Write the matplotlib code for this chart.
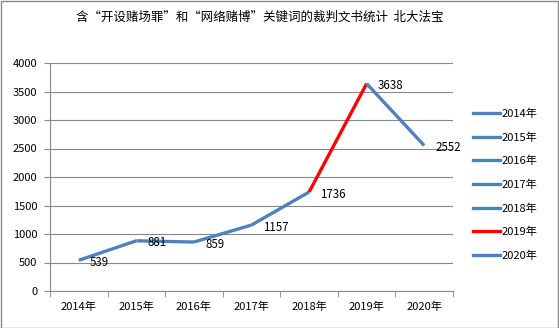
import matplotlib
matplotlib.use("Agg")
import matplotlib.pyplot as plt
from matplotlib.lines import Line2D
from matplotlib.patches import Rectangle

plt.rcParams['font.family'] = ['Noto Sans CJK SC', 'DejaVu Sans']

years = ['2014年', '2015年', '2016年', '2017年', '2018年', '2019年', '2020年']
values = [539, 881, 859, 1157, 1736, 3638, 2552]
title = '含“开设赌场罪”和“网络赌博”关键词的裁判文书统计  北大法宝'
blue = '#4F81BD'
red = '#FF0000'
seg_colors = [blue, blue, blue, blue, blue, red, blue]  # colour of segment ending at each year

fig = plt.figure(figsize=(5.59, 3.28), dpi=100)
ax = fig.add_axes([50/559, 1 - 291/328, (453-50)/559, (291-63)/328])

x = list(range(len(years)))
for i in range(1, len(x)):
    ax.plot([x[i-1], x[i]], [values[i-1], values[i]], color=seg_colors[i], lw=2.4,
            solid_capstyle='butt', zorder=3)
for i, v in enumerate(values):
    ax.annotate(str(v), (x[i], v), xytext=(8, -1.5), textcoords='offset points',
                ha='left', va='center', fontsize=8.3, color='black', zorder=4)

ax.set_xlim(-0.5, len(x) - 0.5)
ax.set_ylim(0, 4000)
ax.set_yticks(range(0, 4001, 500))
ax.set_yticklabels([str(t) for t in range(0, 4001, 500)], fontsize=8)
ax.set_xticks(x)
ax.set_xticklabels(years, fontsize=8)
ax.set_xticks([i - 0.5 for i in range(len(x) + 1)], minor=True)
ax.tick_params(axis='x', which='major', length=0, pad=8)
ax.tick_params(axis='x', which='minor', length=4, color='#888888', direction='out')
ax.tick_params(axis='y', length=4, color='#888888', direction='out', pad=5)
ax.yaxis.grid(True, color='#888888', lw=0.8)
ax.set_axisbelow(True)
for s in ['top', 'right']:
    ax.spines[s].set_visible(False)
for s in ['left', 'bottom']:
    ax.spines[s].set_color('#888888')
    ax.spines[s].set_linewidth(0.8)

handles = [Line2D([0], [0], color=c, lw=2.4) for c in seg_colors]
leg = fig.legend(handles, years, loc='upper left', bbox_to_anchor=(469/559, 1 - 104/328),
                 frameon=False, fontsize=8, handlelength=2.4, handletextpad=0.15,
                 labelspacing=1.2, borderaxespad=0)

fig.text(260/559, 1 - 17/328, title, ha='center', va='center', fontsize=9)
fig.patches.append(Rectangle((0.5/559, 0.5/328), 1 - 1.5/559, 1 - 1.5/328, transform=fig.transFigure,
                             fill=False, edgecolor='#888888', lw=1))
fig.savefig('out.png', dpi=100)
